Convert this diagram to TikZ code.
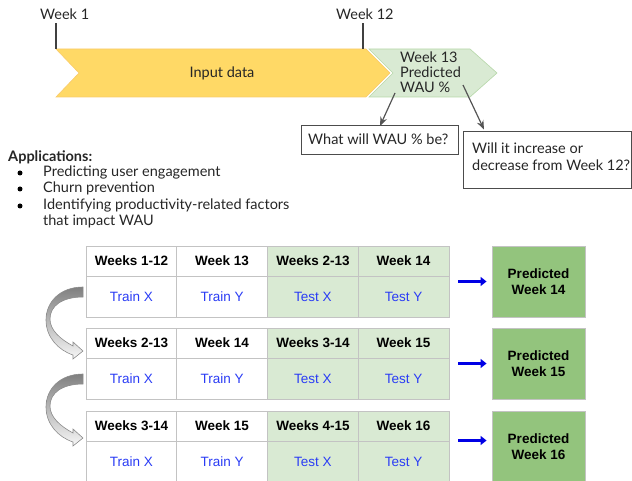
\documentclass[tikz,border=0pt]{standalone}
\usepackage{fontspec}
\setmainfont{Lato}
\newfontfamily\arialf{Liberation Sans}
\usetikzlibrary{arrows.meta,calc}
\definecolor{ylw}{HTML}{FFD966}
\definecolor{ylwline}{HTML}{F9CB6B}
\definecolor{lgreen}{HTML}{D9EAD3}
\definecolor{lgreenline}{HTML}{B6D7A8}
\definecolor{dgreen}{HTML}{93C47D}
\definecolor{gridc}{HTML}{C3C3C3}
\definecolor{bluetxt}{HTML}{2A3CF5}
\definecolor{arrgray}{HTML}{555555}
\tikzset{
  toptext/.style={font=\fontsize{14.5}{15}\selectfont, text=black!85, inner sep=0pt},
  qbox/.style={draw=black!70, line width=0.8pt, fill=white, inner sep=0pt},
  cell/.style={draw=gridc, line width=0.9pt, minimum width=90.75pt, inner sep=0pt, font=\arialf\fontsize{13.5}{15}\selectfont},
  hcell/.style={cell, minimum height=30pt, font=\arialf\bfseries\fontsize{13.5}{15}\selectfont},
  bcell/.style={cell, minimum height=41pt, text=bluetxt},
  predbox/.style={draw=gridc, line width=0.9pt, fill=dgreen, minimum width=93pt, minimum height=71pt, align=center, inner sep=0pt, font=\arialf\bfseries\fontsize{13.5}{16.5}\selectfont},
  bluearr/.style={draw=blue!90!black, line width=3.2pt, -{Triangle[length=6pt,width=9pt]}, shorten <=9pt, shorten >=5pt},
  grayarr/.style={draw=arrgray, line width=1.2pt, -{Stealth[length=9pt,width=7pt]}},
  weekline/.style={draw=black!75, line width=1.1pt},
  bulletdot/.style={circle, fill=black, inner sep=0pt, minimum size=5pt},
  curvarr/.style={draw=black!45, line width=0.6pt, top color=black!50, bottom color=black!3}
}
\begin{document}
\begin{tikzpicture}[x=1pt,y=-1pt]
\useasboundingbox (0,0) rectangle (632,481);

% ---------- timeline ----------
\fill[ylw, draw=ylwline, line width=0.6pt] (56,49) -- (366,49) -- (390,73) -- (366,97) -- (56,97) -- (79,73) -- cycle;
\fill[lgreen, draw=lgreenline, line width=0.6pt] (369,49) -- (470,49) -- (497,73) -- (470,97) -- (369,97) -- (393,73) -- cycle;
\node[toptext] (input) at (222,73) {Input data};

\node[toptext, anchor=west] (w1) at (40,14) {Week 1};
\node[toptext, anchor=west] (w12) at (336,14) {Week 12};
\coordinate (w1b) at (56,49);
\coordinate (w12b) at (363,49);
\draw[weekline] (w1b) -- (w1b |- 0,23);
\draw[weekline] (w12b) -- (w12b |- 0,23);

\node[toptext, anchor=north west, align=left, font=\fontsize{14.5}{15}\selectfont] (pred) at (400,52) {Week 13\\Predicted\\WAU \%};

\node[qbox, minimum width=157pt, minimum height=29pt, anchor=north west] (q1) at (301,125) {};
\node[toptext, anchor=west] (q1t) at (308,139.5) {What will WAU \% be?};
\node[qbox, minimum width=168pt, minimum height=57pt, anchor=north west] (q2) at (463,131) {};
\node[toptext, anchor=north west, align=left, font=\fontsize{14.5}{17}\selectfont] (q2t) at (472,143) {Will it increase or\\decrease from Week 12?};

\coordinate (a1s) at (395,93);
\coordinate (a2s) at (463,85);
\draw[grayarr] (a1s) -- (380,126);
\draw[grayarr] (a2s) -- (484,129.5);

% ---------- applications ----------
\node[toptext, anchor=west, font=\bfseries\fontsize{14.5}{15}\selectfont] (app) at (8,157) {Applications:};
\foreach \y/\t [count=\i] in {172/Predicting user engagement, 188/Churn prevention, 205/Identifying productivity-related factors} {
  \node[bulletdot] (bul\i) at (20,\y+1) {};
  \node[toptext, anchor=west] (app\i) at (43,\y) {\t};
}
\node[toptext, anchor=west] (app4) at (43,221) {that impact WAU};

% ---------- tables ----------
\foreach \top/\k/\ha/\hb/\hc/\hd in {246/1/Weeks 1-12/Week 13/Weeks 2-13/Week 14,
                                   328/2/Weeks 2-13/Week 14/Weeks 3-14/Week 15,
                                   411/3/Weeks 3-14/Week 15/Weeks 4-15/Week 16} {
  \node[hcell, fill=white]  (h\k a) at (131.4,\top+15) {\ha};
  \node[hcell, fill=white]  (h\k b) at (222.1,\top+15) {\hb};
  \node[hcell, fill=lgreen] (h\k c) at (312.9,\top+15) {\hc};
  \node[hcell, fill=lgreen] (h\k d) at (403.6,\top+15) {\hd};
  \node[bcell, fill=white]  (b\k a) at (131.4,\top+50.5) {Train X};
  \node[bcell, fill=white]  (b\k b) at (222.1,\top+50.5) {Train Y};
  \node[bcell, fill=lgreen] (b\k c) at (312.9,\top+50.5) {Test X};
  \node[bcell, fill=lgreen] (b\k d) at (403.6,\top+50.5) {Test Y};
}
\node[predbox] (p1) at (538.5,281.5) {Predicted\\Week 14};
\node[predbox] (p2) at (538.5,363.5) {Predicted\\Week 15};
\node[predbox] (p3) at (538.5,446.5) {Predicted\\Week 16};

\draw[bluearr] (h1d.east |- p1.west) -- (p1.west);
\draw[bluearr] (h2d.east |- p2.west) -- (p2.west);
\draw[bluearr] ($(h3d.east |- p3.west)+(0,-6)$) -- ($(p3.west)+(0,-6)$);

% ---------- curved arrows ----------
\foreach \dy in {0,87} {
  \path[curvarr] (83,287+\dy) .. controls (60,287+\dy) and (46,302+\dy) .. (46,320+\dy)
     .. controls (46,337+\dy) and (58,350+\dy) .. (73,355+\dy)
     -- (73,359+\dy) -- (83,351+\dy) -- (73,342+\dy) -- (73,346+\dy)
     .. controls (60,339+\dy) and (50,330+\dy) .. (50,319+\dy)
     .. controls (50,306+\dy) and (62,297+\dy) .. (83,297+\dy) -- cycle;
}
\end{tikzpicture}
\end{document}
